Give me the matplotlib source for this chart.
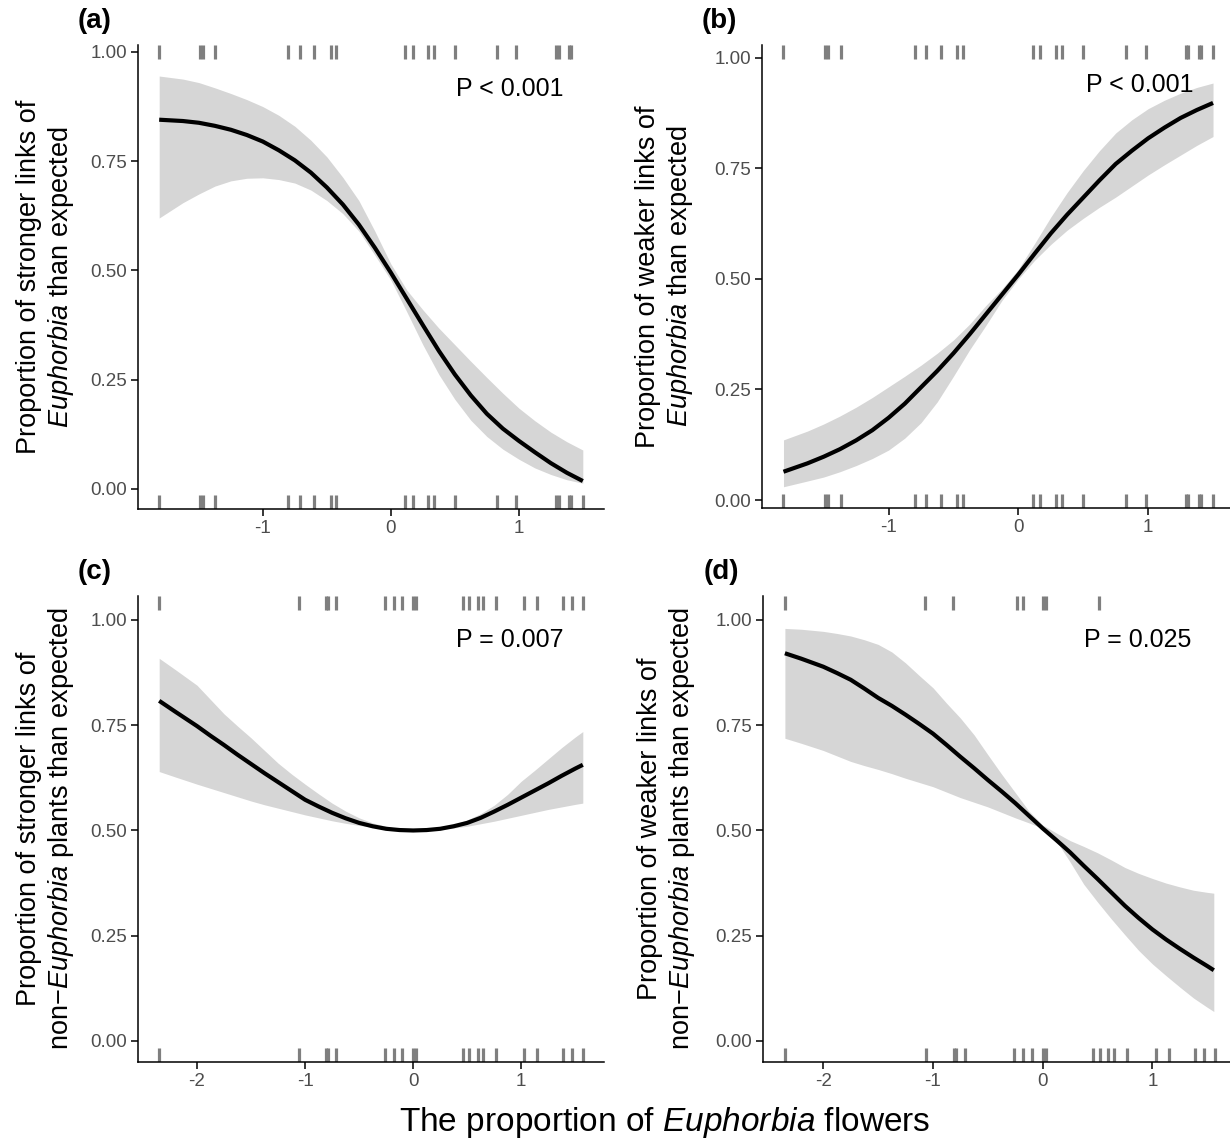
import numpy as np
import matplotlib
matplotlib.use('Agg')
import matplotlib.pyplot as plt
from matplotlib.transforms import blended_transform_factory

plt.rcParams['font.family'] = ['Liberation Sans', 'DejaVu Sans']
plt.rcParams['mathtext.fontset'] = 'custom'
plt.rcParams['mathtext.rm'] = 'Liberation Sans'
plt.rcParams['mathtext.it'] = 'Liberation Sans:italic'
plt.rcParams['axes.unicode_minus'] = False

# ---- data ----
# rug positions (x of each site)
rug_ab = [-1.81, -1.49, -1.47, -1.37, -0.80, -0.71, -0.60, -0.47, -0.43, 0.11,
          0.17, 0.29, 0.34, 0.50, 0.83, 0.98, 1.29, 1.31, 1.39, 1.41, 1.50]
rug_a_top = rug_ab[:-1]
rug_cd = [-2.35, -1.06, -0.81, -0.79, -0.71, -0.26, -0.18, -0.10, 0.00, 0.03,
          0.46, 0.52, 0.60, 0.65, 0.77, 1.03, 1.15, 1.39, 1.47, 1.57]
rug_d_top = [-2.35, -1.07, -0.82, -0.23, -0.18, 0.00, 0.03, 0.51]

# (a) stronger links of Euphorbia
x_a = [-1.81, -1.625, -1.5, -1.375, -1.25, -1.125, -1.0, -0.875, -0.75, -0.625, -0.5,
       -0.375, -0.25, -0.125, 0, 0.125, 0.25, 0.375, 0.5, 0.625, 0.75, 0.875, 1.0,
       1.125, 1.25, 1.375, 1.5]
fit_a = [0.845, 0.842, 0.838, 0.831, 0.822, 0.810, 0.795, 0.775, 0.752, 0.724, 0.690,
         0.651, 0.605, 0.552, 0.495, 0.435, 0.375, 0.316, 0.262, 0.214, 0.172, 0.138, 0.110,
         0.084, 0.059, 0.037, 0.018]
up_a = [0.945, 0.938, 0.930, 0.918, 0.905, 0.891, 0.875, 0.855, 0.830, 0.798, 0.760,
        0.713, 0.660, 0.590, 0.515, 0.455, 0.410, 0.368, 0.330, 0.292, 0.255, 0.219, 0.185,
        0.156, 0.130, 0.108, 0.089]
lo_a = [0.620, 0.655, 0.675, 0.693, 0.705, 0.711, 0.712, 0.708, 0.700, 0.684, 0.660,
        0.630, 0.590, 0.535, 0.478, 0.405, 0.330, 0.262, 0.205, 0.157, 0.120, 0.091, 0.068,
        0.048, 0.033, 0.021, 0.013]

# (b) weaker links of Euphorbia
x_b = [-1.81, -1.625, -1.5, -1.375, -1.25, -1.125, -1.0, -0.875, -0.75, -0.625, -0.5,
       -0.375, -0.25, -0.125, 0, 0.125, 0.25, 0.375, 0.5, 0.625, 0.75, 0.875, 1.0,
       1.125, 1.25, 1.375, 1.5]
fit_b = [0.064, 0.083, 0.098, 0.115, 0.135, 0.158, 0.186, 0.218, 0.255, 0.292, 0.332,
         0.375, 0.420, 0.465, 0.510, 0.557, 0.603, 0.645, 0.684, 0.723, 0.760, 0.790, 0.818,
         0.842, 0.864, 0.882, 0.898]
up_b = [0.136, 0.156, 0.172, 0.190, 0.210, 0.232, 0.256, 0.280, 0.305, 0.332, 0.362,
        0.398, 0.440, 0.478, 0.522, 0.580, 0.640, 0.695, 0.745, 0.790, 0.830, 0.860, 0.885,
        0.904, 0.920, 0.933, 0.943]
lo_b = [0.030, 0.043, 0.052, 0.064, 0.078, 0.094, 0.113, 0.140, 0.175, 0.222, 0.280,
        0.340, 0.395, 0.452, 0.500, 0.542, 0.578, 0.610, 0.637, 0.662, 0.685, 0.710, 0.735,
        0.758, 0.780, 0.802, 0.822]

# (c) stronger links of non-Euphorbia plants
x_c = [-2.35, -2.2, -2.0, -1.875, -1.75, -1.625, -1.5, -1.375, -1.25, -1.125, -1.0,
       -0.875, -0.75, -0.625, -0.5, -0.375, -0.25, -0.125, 0, 0.125, 0.25, 0.375, 0.5,
       0.625, 0.75, 0.875, 1.0, 1.125, 1.25, 1.375, 1.5, 1.57]
fit_c = [0.808, 0.782, 0.748, 0.725, 0.703, 0.680, 0.658, 0.636, 0.615, 0.594, 0.573,
         0.557, 0.542, 0.529, 0.518, 0.510, 0.504, 0.501, 0.500, 0.501, 0.504, 0.510, 0.518,
         0.530, 0.545, 0.561, 0.578, 0.595, 0.612, 0.630, 0.647, 0.656]
up_c = [0.909, 0.882, 0.845, 0.811, 0.777, 0.748, 0.720, 0.690, 0.660, 0.634, 0.610,
        0.587, 0.565, 0.546, 0.530, 0.518, 0.510, 0.504, 0.501, 0.503, 0.507, 0.514, 0.525,
        0.540, 0.560, 0.586, 0.617, 0.643, 0.670, 0.697, 0.722, 0.735]
lo_c = [0.640, 0.627, 0.610, 0.600, 0.590, 0.580, 0.570, 0.561, 0.553, 0.545, 0.537,
        0.530, 0.523, 0.517, 0.512, 0.508, 0.504, 0.501, 0.499, 0.501, 0.503, 0.506, 0.510,
        0.516, 0.522, 0.529, 0.536, 0.543, 0.550, 0.556, 0.562, 0.565]

# (d) weaker links of non-Euphorbia plants
x_d = [-2.35, -2.2, -2.0, -1.875, -1.75, -1.625, -1.5, -1.375, -1.25, -1.125, -1.0,
       -0.875, -0.75, -0.625, -0.5, -0.375, -0.25, -0.125, 0, 0.125, 0.25, 0.375, 0.5,
       0.625, 0.75, 0.875, 1.0, 1.125, 1.25, 1.375, 1.5, 1.56]
fit_d = [0.921, 0.908, 0.889, 0.874, 0.858, 0.837, 0.815, 0.796, 0.775, 0.753, 0.730,
         0.703, 0.675, 0.648, 0.620, 0.593, 0.565, 0.535, 0.505, 0.477, 0.448, 0.416, 0.385,
         0.353, 0.321, 0.292, 0.265, 0.241, 0.219, 0.198, 0.178, 0.168]
up_d = [0.980, 0.978, 0.973, 0.968, 0.962, 0.953, 0.942, 0.924, 0.898, 0.868, 0.839,
        0.802, 0.767, 0.727, 0.680, 0.634, 0.590, 0.546, 0.513, 0.494, 0.476, 0.462, 0.447,
        0.430, 0.412, 0.398, 0.386, 0.375, 0.366, 0.358, 0.353, 0.351]
lo_d = [0.719, 0.707, 0.690, 0.677, 0.664, 0.654, 0.645, 0.635, 0.624, 0.614, 0.604,
        0.591, 0.578, 0.567, 0.556, 0.543, 0.530, 0.518, 0.505, 0.475, 0.425, 0.372, 0.330,
        0.290, 0.252, 0.215, 0.183, 0.155, 0.128, 0.102, 0.080, 0.070]

tags = ['(a)', '(b)', '(c)', '(d)']
p_labels = ['P < 0.001', 'P < 0.001', 'P = 0.007', 'P = 0.025']
ylabels = ['Proportion of stronger links of\n$\\mathit{Euphorbia}$ than expected',
           'Proportion of weaker links of\n$\\mathit{Euphorbia}$ than expected',
           'Proportion of stronger links of\nnon\u2212$\\mathit{Euphorbia}$ plants than expected',
           'Proportion of weaker links of\nnon\u2212$\\mathit{Euphorbia}$ plants than expected']
xticks_ab = [-1, 0, 1]
xticks_cd = [-2, -1, 0, 1]
yticks = [0, 0.25, 0.5, 0.75, 1.0]

W, H = 1230, 1142
fig = plt.figure(figsize=(W / 100, H / 100), dpi=100)


def px_axes(l, r, t, b):
    return fig.add_axes([l / W, 1 - b / H, (r - l) / W, (b - t) / H])


# pixel boxes of the panels (left, right, top, bottom) and y limits
boxes = [(138, 604, 45, 509), (762, 1234.5, 45, 508),
         (138, 604, 596, 1062), (763.4, 1236.4, 596, 1062)]
ylims = [(-0.046, 1.016), (-0.018, 1.029), (-0.05, 1.057), (-0.05, 1.057)]
curves = [(x_a, fit_a, up_a, lo_a), (x_b, fit_b, up_b, lo_b),
          (x_c, fit_c, up_c, lo_c), (x_d, fit_d, up_d, lo_d)]
rugs = [(rug_a_top, rug_ab), (rug_ab, rug_ab), (rug_cd, rug_cd), (rug_d_top, rug_cd)]
p_pos = [(0.798, 0.905), (0.800, 0.914), (0.798, 0.906), (0.792, 0.906)]
label_x = [-0.133, -0.142, -0.133, -0.140]

for i in range(4):
    l, r, t, b = boxes[i]
    ax = px_axes(l, r, t, b)
    x, fit, up, lo = curves[i]
    top, bottom = rugs[i]
    span = max(bottom) - min(bottom)
    ax.set_xlim(min(bottom) - 0.05 * span, max(bottom) + 0.05 * span)
    ax.set_ylim(*ylims[i])

    ax.fill_between(x, lo, up, color='#999999', alpha=0.4, lw=0)
    ax.plot(x, fit, color='black', lw=3, solid_capstyle='butt', solid_joinstyle='round')

    trans = blended_transform_factory(ax.transData, ax.transAxes)
    ax.vlines(bottom, 0, 0.031, transform=trans, color='#7f7f7f', lw=2.3)
    ax.vlines(top, 0.969, 1, transform=trans, color='#7f7f7f', lw=2.3)

    ax.text(p_pos[i][0], p_pos[i][1], p_labels[i], transform=ax.transAxes,
            ha='center', va='center', fontsize=18, color='black')

    for s in ['top', 'right']:
        ax.spines[s].set_visible(False)
    for s in ['left', 'bottom']:
        ax.spines[s].set_linewidth(1.1)
    ax.tick_params(direction='out', length=5, width=1.1, color='black',
                   labelcolor='#4d4d4d', labelsize=13.5, pad=3)
    ax.set_xticks(xticks_ab if i < 2 else xticks_cd)
    ax.set_yticks(yticks)
    ax.set_yticklabels(['%.2f' % v for v in yticks])

    ax.set_ylabel(ylabels[i], fontsize=19.5, color='black')
    ax.yaxis.set_label_coords(label_x[i], 0.5)

    fig.text((l - 60) / W, 1 - (t - 24) / H, tags[i], fontsize=20,
             fontweight='bold', ha='left', va='center')

fig.text(665 / W, 1 - 1122 / H, 'The proportion of $\\mathit{Euphorbia}$ flowers',
         fontsize=24, ha='center', va='center')

fig.savefig('out.png', dpi=100)
